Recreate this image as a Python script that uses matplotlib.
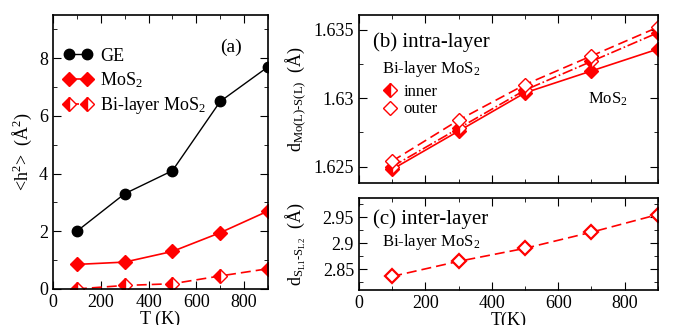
import numpy as np
import matplotlib
matplotlib.use('Agg')
import matplotlib.pyplot as plt
from matplotlib.ticker import MultipleLocator, FixedLocator, FixedFormatter
from matplotlib.legend_handler import HandlerLine2D

plt.rcParams['font.family'] = ['Liberation Serif', 'DejaVu Serif']
plt.rcParams['mathtext.fontset'] = 'custom'
plt.rcParams['mathtext.rm'] = 'Liberation Serif'
plt.rcParams['mathtext.it'] = 'Liberation Serif:italic'
plt.rcParams['font.size'] = 13

T = [100, 300, 500, 700, 900]

# (a) mean square height
h2_ge = [2.0, 3.3, 4.1, 6.5, 7.7]
h2_mos2 = [0.85, 0.93, 1.3, 1.95, 2.7]
h2_bilayer = [0.0, 0.12, 0.18, 0.45, 0.7]

# (b) intra-layer Mo-S distance
d_mono = [1.6248, 1.6276, 1.6304, 1.6320, 1.6336]
d_inner = [1.6250, 1.6278, 1.6306, 1.6327, 1.6348]
d_outer = [1.6254, 1.6284, 1.6310, 1.6331, 1.6352]

# (c) inter-layer S-S distance
d_inter = [2.836, 2.865, 2.890, 2.921, 2.955]

red = '#ff0000'

fig = plt.figure(figsize=(6.74, 3.25), dpi=100)
ax1 = fig.add_axes([0.0786, 0.111, 0.319, 0.843])
ax2 = fig.add_axes([0.5326, 0.437, 0.4434, 0.517])
ax3 = fig.add_axes([0.5326, 0.108, 0.4434, 0.283])

for ax in (ax1, ax2, ax3):
    ax.tick_params(which='both', direction='in', top=True, right=True, labelsize=13)
    ax.tick_params(which='major', length=6)
    ax.tick_params(which='minor', length=3)
    ax.set_xlim(0, 900)
    ax.xaxis.set_major_locator(MultipleLocator(200))
    ax.xaxis.set_minor_locator(MultipleLocator(100))
    for s in ax.spines.values():
        s.set_linewidth(1.2)

# panel (a)
ax1.plot(T, h2_ge, '-o', color='black', lw=1, ms=7.5, label='GE')
ax1.plot(T, h2_mos2, '-D', color=red, lw=1.2, ms=7, label=r'MoS$_2$')
ax1.plot(T, h2_bilayer, '--D', color=red, lw=1.2, ms=7, fillstyle='left',
         markerfacecoloralt='white', dashes=(6, 3), label=r'Bi-layer MoS$_2$')
ax1.set_ylim(0, 9.5)
ax1.yaxis.set_major_locator(MultipleLocator(2))
ax1.yaxis.set_minor_locator(MultipleLocator(1))
ax1.set_xlabel('T (K)', labelpad=0)
ax1.set_ylabel(r'<h$^2$>  (Å$^2$)')
ax1.text(0.83, 0.88, '(a)', transform=ax1.transAxes, ha='center', va='center', fontsize=14)
ax1.legend(loc='upper left', bbox_to_anchor=(0.0, 0.92), frameon=False, fontsize=13,
           numpoints=2, handlelength=1.6, handletextpad=0.4, labelspacing=0.3,
           borderaxespad=0.2)

# panel (b)
ax2.plot(T, d_mono, '-D', color=red, lw=1.2, ms=7)
l_inner, = ax2.plot(T, d_inner, '-.D', color=red, lw=1.2, ms=7, fillstyle='left',
                    markerfacecoloralt='white')
l_outer, = ax2.plot(T, d_outer, '--D', color=red, lw=1.2, ms=7, mfc='white', dashes=(6, 3))
ax2.set_ylim(1.6238, 1.6361)
ax2.yaxis.set_major_locator(FixedLocator([1.625, 1.63, 1.635]))
ax2.yaxis.set_major_formatter(FixedFormatter(['1.625', '1.63', '1.635']))
ax2.yaxis.set_minor_locator(MultipleLocator(0.0025))
ax2.tick_params(labelbottom=False)
ax2.set_ylabel(r'd$_{\mathrm{Mo(L)}\text{-}\mathrm{S(L)}}$  (Å)')
ax2.text(0.047, 0.84, '(b) intra-layer', transform=ax2.transAxes, va='center', fontsize=15)
ax2.text(0.077, 0.68, r'Bi-layer MoS$_2$', transform=ax2.transAxes, va='center', fontsize=12)
ax2.text(0.766, 0.50, r'MoS$_2$', transform=ax2.transAxes, va='center', fontsize=12)
ax2.legend([l_inner, l_outer], ['inner', 'outer'], loc='upper left',
           bbox_to_anchor=(0.06, 0.63), frameon=False, fontsize=12,
           handlelength=0.8, handletextpad=0.4, labelspacing=0.1, borderaxespad=0,
           handler_map={l_inner: HandlerLine2D(marker_pad=0),
                        l_outer: HandlerLine2D(marker_pad=0)})
for h in ax2.get_legend().get_lines():
    h.set_linestyle('none')

# panel (c)
ax3.plot(T, d_inter, '--D', color=red, lw=1.2, ms=7, mfc='white', mew=1.6, dashes=(6, 3))
ax3.set_ylim(2.81, 2.987)
ax3.yaxis.set_major_locator(FixedLocator([2.85, 2.9, 2.95]))
ax3.yaxis.set_major_formatter(FixedFormatter(['2.85', '2.9', '2.95']))
ax3.yaxis.set_minor_locator(MultipleLocator(0.025))
ax3.set_xlabel('T(K)', labelpad=0)
ax3.set_ylabel(r'd$_{\mathrm{S_{L1}}\text{-}\mathrm{S_{L2}}}$  (Å)')
ax3.text(0.047, 0.77, '(c) inter-layer', transform=ax3.transAxes, va='center', fontsize=15)
ax3.text(0.077, 0.52, r'Bi-layer MoS$_2$', transform=ax3.transAxes, va='center', fontsize=12)

ax2.yaxis.set_label_coords(-0.17, 0.5)
ax3.yaxis.set_label_coords(-0.17, 0.5)

fig.savefig('out.png', dpi=100)
